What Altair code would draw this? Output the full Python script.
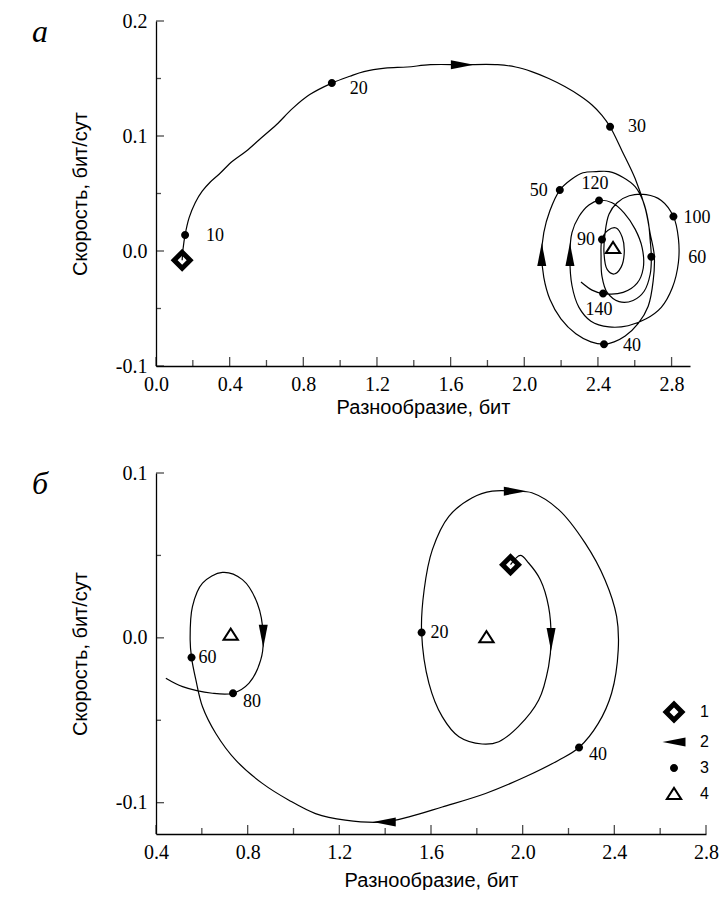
import altair as alt
import pandas as pd

SERIF = "Liberation Serif"
SANS = "Liberation Sans"

# ---------------- Panel а : trajectory ----------------
a_path_x = [0.142, 0.147, 0.158, 0.18, 0.213, 0.251, 0.295, 0.344, 0.415, 0.491,
            0.562, 0.655, 0.742, 0.835, 0.955, 1.053, 1.129, 1.244, 1.364, 1.49,
            1.664, 1.855, 1.953, 2.04, 2.133, 2.22, 2.302, 2.368, 2.422, 2.466,
            2.531, 2.602, 2.657, 2.684, 2.706, 2.70, 2.673, 2.619, 2.548, 2.488, 2.433,
            2.362, 2.28, 2.199, 2.139, 2.106, 2.095, 2.106, 2.139, 2.193, 2.253,
            2.319, 2.39, 2.46, 2.537, 2.602, 2.646, 2.673, 2.684, 2.69,
            2.684, 2.651, 2.591, 2.515, 2.45, 2.422, 2.417, 2.422, 2.455, 2.499,
            2.532, 2.543, 2.526, 2.488, 2.45, 2.433, 2.439, 2.46, 2.504, 2.57,
            2.662, 2.744, 2.81,
            2.837, 2.837, 2.804, 2.744, 2.662, 2.564, 2.46, 2.362, 2.297, 2.259,
            2.248, 2.259, 2.297, 2.351, 2.406,
            2.477, 2.543, 2.602, 2.64, 2.646, 2.613, 2.537, 2.428, 2.368, 2.308]
a_path_y = [-0.008, 0.002, 0.014, 0.029, 0.042, 0.052, 0.060, 0.067, 0.078, 0.087,
            0.097, 0.110, 0.124, 0.136, 0.146, 0.152, 0.156, 0.159, 0.160, 0.162,
            0.162, 0.162, 0.160, 0.156, 0.150, 0.143, 0.135, 0.127, 0.118, 0.108,
            0.087, 0.063, 0.037, 0.015, -0.004, -0.026, -0.048, -0.063, -0.074, -0.079, -0.081,
            -0.079, -0.072, -0.059, -0.042, -0.023, -0.003, 0.016, 0.035, 0.053, 0.062,
            0.068, 0.069, 0.069, 0.064, 0.056, 0.043, 0.026, 0.009, -0.005,
            -0.020, -0.035, -0.043, -0.044, -0.036, -0.022, -0.005, 0.010, 0.018, 0.020,
            0.012, -0.001, -0.014, -0.020, -0.016, -0.002, 0.016, 0.032, 0.042, 0.048,
            0.049, 0.044, 0.030,
            0.011, -0.010, -0.032, -0.049, -0.059, -0.065, -0.066, -0.061, -0.049, -0.030,
            -0.003, 0.016, 0.030, 0.040, 0.044,
            0.042, 0.033, 0.019, 0.003, -0.015, -0.028, -0.036, -0.037, -0.034, -0.027]
a_dot_lab = ["10", "20", "30", "40", "50", "60", "90", "100", "120", "140"]
a_dot_x = [0.158, 0.955, 2.466, 2.433, 2.193, 2.69, 2.422, 2.81, 2.406, 2.428]
a_dot_y = [0.014, 0.146, 0.108, -0.081, 0.053, -0.005, 0.010, 0.030, 0.044, -0.037]
a_start_x, a_start_y = [0.142], [-0.008]
a_eq_x, a_eq_y = [2.482], [0.0026]
a_arrow_x = [1.664, 2.095, 2.248]
a_arrow_y = [0.162, -0.003, -0.003]
a_arrow_dir = ["right", "up", "up"]

# ---------------- Panel б : trajectory ----------------
b_path_x = [1.947, 1.990, 2.026, 2.077, 2.113, 2.124, 2.113, 2.07, 1.98, 1.896,
            1.823, 1.722, 1.649, 1.591, 1.559, 1.57, 1.606, 1.678, 1.78, 1.867,
            1.968, 2.04, 2.157, 2.272, 2.359, 2.41, 2.417, 2.388, 2.33, 2.246,
            2.157, 2.012, 1.838, 1.649, 1.504, 1.396, 1.226, 1.096, 0.98, 0.864,
            0.748, 0.661, 0.603, 0.574, 0.555, 0.549, 0.559, 0.603, 0.69, 0.777,
            0.842, 0.868, 0.857, 0.806, 0.736, 0.646, 0.516, 0.443]
b_path_y = [0.0444, 0.050, 0.0454, 0.0353, 0.019, -0.001, -0.0174, -0.0377, -0.054, -0.063,
            -0.0644, -0.060, -0.0478, -0.0276, 0.0032, 0.029, 0.0535, 0.0737, 0.085, 0.089,
            0.089, 0.088, 0.0778, 0.0576, 0.0353, 0.013, -0.0073, -0.0336, -0.0519, -0.0665,
            -0.0742, -0.0843, -0.0944, -0.1026, -0.1086, -0.1117, -0.1106, -0.1066, -0.0985, -0.0883,
            -0.0742, -0.058, -0.0418, -0.0255, -0.012, -0.0012, 0.019, 0.0332, 0.0397, 0.0353,
            0.021, 0.001, -0.0134, -0.0275, -0.0336, -0.0336, -0.0296, -0.0245]
b_dot_lab = ["20", "40", "60", "80"]
b_dot_x = [1.559, 2.246, 0.555, 0.736]
b_dot_y = [0.0032, -0.0665, -0.012, -0.0336]
b_start_x, b_start_y = [1.947], [0.0444]
b_eq_x, b_eq_y = [0.726, 1.842], [0.0018, 0.0004]
b_arrow_x = [1.968, 2.124, 1.396, 0.868]
b_arrow_y = [0.089, -0.001, -0.1117, 0.001]
b_arrow_dir = ["right", "down", "left", "down"]

# ---------------- axes ----------------
a_xmajor = [0.0, 0.4, 0.8, 1.2, 1.6, 2.0, 2.4, 2.8]
a_xminor = [0.2, 0.6, 1.0, 1.4, 1.8, 2.2, 2.6]
a_ymajor = [-0.1, 0.0, 0.1, 0.2]
a_yminor = [-0.05, 0.05, 0.15]
b_xmajor = [0.4, 0.8, 1.2, 1.6, 2.0, 2.4, 2.8]
b_xminor = [0.6, 1.0, 1.4, 1.8, 2.2, 2.6]
b_ymajor = [-0.1, 0.0, 0.1]
b_yminor = [-0.05, 0.05]

KINDS = ["1", "2", "3", "4"]
# glyphs in pixel units (drawn with size=4 -> scale factor 1)
DIAMOND = "M0,-11.5L11.5,0L0,11.5L-11.5,0ZM0,-4.5L-4.5,0L0,4.5L4.5,0Z"
ARROW = "M-11.5,0L11.5,-4.5L11.5,4.5Z"
DOT = "M4,0A4,4,0,1,1,-4,0A4,4,0,1,1,4,0Z"
TRIANGLE = "M0,-8L9,6L-9,6ZM0,-4.3L-5.3,4L5.3,4Z"
DIR_ANGLE = {"left": 0, "up": 90, "right": 180, "down": 270}

LABEL_FMT = "datum.value < 0 ? '-' + format(-datum.value, '.1f') : format(datum.value, '.1f')"

a_label_style = {"10": ("left", 21, 1), "20": ("left", 18, 6), "30": ("left", 18, 0),
                 "40": ("left", 19, 2), "50": ("right", -12, 1), "60": ("left", 37, 1),
                 "90": ("right", -7, 0), "100": ("left", 10, 1), "120": ("center", -4, -16),
                 "140": ("center", -4, 16)}
b_label_style = {"20": ("left", 9, 0), "40": ("left", 10, 8), "60": ("left", 7, 0),
                 "80": ("left", 10, 9)}


def markers(sx, sy, ax, ay, ad, dx, dy, ex, ey):
    rows = [{"x": x, "y": y, "kind": "1", "ang": 0} for x, y in zip(sx, sy)]
    rows += [{"x": x, "y": y, "kind": "2", "ang": DIR_ANGLE[d]} for x, y, d in zip(ax, ay, ad)]
    rows += [{"x": x, "y": y, "kind": "3", "ang": 0} for x, y in zip(dx, dy)]
    rows += [{"x": x, "y": y, "kind": "4", "ang": 0} for x, y in zip(ex, ey)]
    return pd.DataFrame(rows)


def panel(letter, px, py, mk, dlab, dx, dy, style, xdom, ydom, xmaj, xmin_, ymaj, ymin_,
          W, H, xtp, legend):
    xs = alt.Scale(domain=xdom, nice=False, zero=False)
    ys = alt.Scale(domain=ydom, nice=False, zero=False)
    common = dict(labelExpr=LABEL_FMT, ticks=False, grid=False, domainColor="black",
                  domainWidth=1.3, labelFont=SERIF, labelFontSize=20, labelColor="black",
                  labelFlush=False, titleFont=SANS, titleFontSize=20,
                  titleFontWeight="normal", titleColor="black")
    xaxis = alt.Axis(values=xmaj, labelPadding=8, title="Разнообразие, бит",
                     titlePadding=xtp, **common)
    yaxis = alt.Axis(values=ymaj, labelPadding=9, title="Скорость, бит/сут",
                     titlePadding=25, **common)
    path_df = pd.DataFrame({"i": list(range(len(px))), "x": px, "y": py})
    line = alt.Chart(path_df).mark_line(
        color="black", strokeWidth=1.2, interpolate="catmull-rom"
    ).encode(x=alt.X("x:Q", scale=xs, axis=xaxis), y=alt.Y("y:Q", scale=ys, axis=yaxis),
             order="i:Q")

    def xticks(vals, ln):
        return alt.Chart(pd.DataFrame({"x": vals})).mark_tick(
            orient="vertical", size=ln, thickness=1.3, color="black", yOffset=-ln / 2
        ).encode(x=alt.X("x:Q", scale=xs), y=alt.value(H))

    def yticks(vals, ln):
        return alt.Chart(pd.DataFrame({"y": vals})).mark_tick(
            orient="horizontal", size=ln, thickness=1.3, color="black", xOffset=ln / 2
        ).encode(y=alt.Y("y:Q", scale=ys), x=alt.value(0))

    shape_kw = dict(scale=alt.Scale(domain=KINDS, range=[DIAMOND, ARROW, DOT, TRIANGLE]))
    if legend:
        shape_kw["legend"] = alt.Legend(
            orient="none", legendX=510, legendY=231, title=None, symbolSize=4,
            symbolStrokeWidth=0, symbolFillColor="black", labelFont=SANS,
            labelFontSize=16, labelColor="black", labelOffset=18, rowPadding=10, padding=0)
    else:
        shape_kw["legend"] = None
    pts = alt.Chart(mk).mark_point(filled=True, size=4, color="black", opacity=1,
                                   strokeWidth=0).encode(
        x=alt.X("x:Q", scale=xs), y=alt.Y("y:Q", scale=ys),
        shape=alt.Shape("kind:N", **shape_kw),
        angle=alt.Angle("ang:Q", scale=None))

    dots_df = pd.DataFrame({"lab": dlab, "x": dx, "y": dy})
    texts = []
    for lab, (al, ddx, ddy) in style.items():
        texts.append(alt.Chart(dots_df).transform_filter(alt.datum.lab == lab).mark_text(
            font=SERIF, fontSize=18, align=al, baseline="middle", dx=ddx, dy=ddy,
            color="black").encode(x=alt.X("x:Q", scale=xs), y=alt.Y("y:Q", scale=ys),
                                  text="lab:N"))
    let = alt.Chart(pd.DataFrame({"t": [letter]})).mark_text(
        font=SERIF, fontSize=32, fontStyle="italic", align="left", baseline="alphabetic",
        color="black").encode(text="t:N", x=alt.value(-124), y=alt.value(21))
    layers = [line, xticks(xmaj, 9), xticks(xmin_, 6), yticks(ymaj, 8), yticks(ymin_, 5),
              pts] + texts + [let]
    return alt.layer(*layers).properties(width=W, height=H)


mk_a = markers(a_start_x, a_start_y, a_arrow_x, a_arrow_y, a_arrow_dir,
               a_dot_x, a_dot_y, a_eq_x, a_eq_y)
mk_b = markers(b_start_x, b_start_y, b_arrow_x, b_arrow_y, b_arrow_dir,
               b_dot_x, b_dot_y, b_eq_x, b_eq_y)

pa = panel("а", a_path_x, a_path_y, mk_a, a_dot_lab, a_dot_x, a_dot_y, a_label_style,
           [0.0, 2.9], [-0.1, 0.2], a_xmajor, a_xminor, a_ymajor, a_yminor, 534, 345, 3, False)
pb = panel("б", b_path_x, b_path_y, mk_b, b_dot_lab, b_dot_x, b_dot_y, b_label_style,
           [0.4, 2.8], [-0.119, 0.1], b_xmajor, b_xminor, b_ymajor, b_yminor, 550, 361, 8, True)

chart = alt.vconcat(pa, pb, spacing=46).resolve_scale(
    x="independent", y="independent", shape="independent"
).properties(
    padding={"left": 24, "top": 3, "right": 0, "bottom": 0}, background="white"
).configure_view(strokeWidth=0)

chart.save("out.html", embed_options={"renderer": "svg", "actions": False})
